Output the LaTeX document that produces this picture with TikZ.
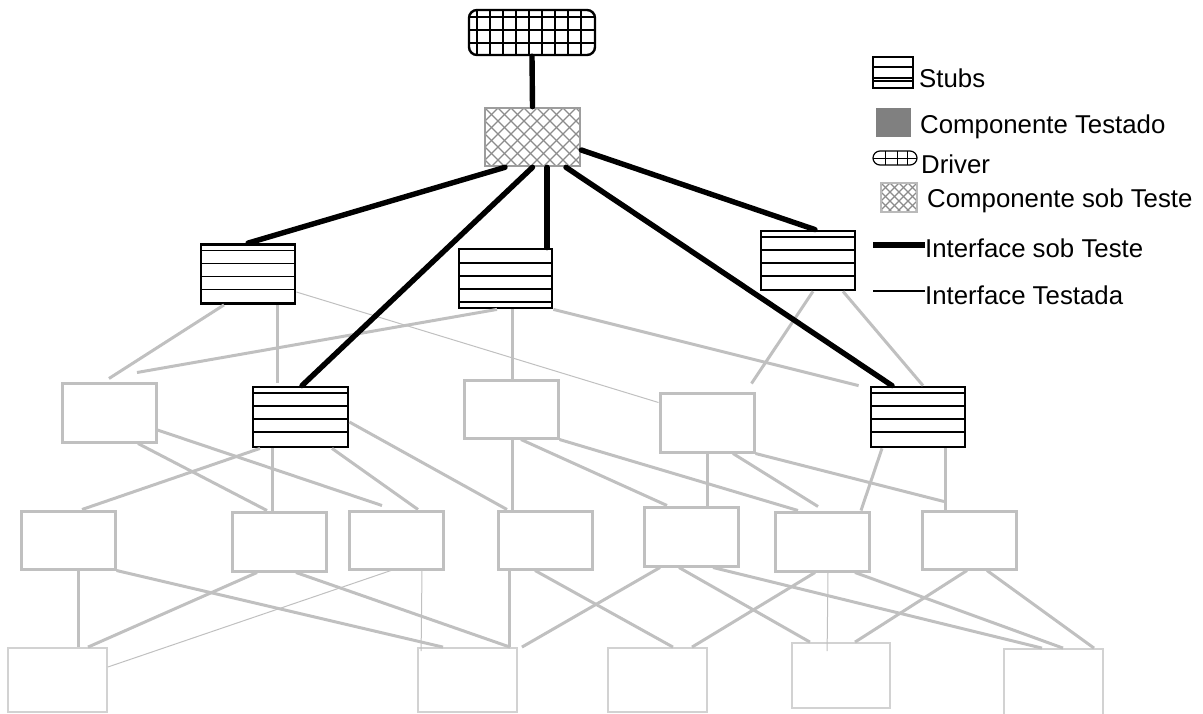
\documentclass[tikz,border=0pt]{standalone}
\usepackage{fontspec}
\setmainfont{Liberation Sans}
\usepackage{tikz}
\definecolor{linkgray}{RGB}{192,192,192}
\definecolor{leafgray}{RGB}{210,210,210}
\definecolor{cutgray}{RGB}{140,140,140}
\definecolor{donegray}{RGB}{128,128,128}

\begin{document}
\begin{tikzpicture}[x=1pt,y=-1pt,
  stub/.style={draw,line width=2.8pt,inner sep=0pt,minimum width=94,minimum height=59,
    path picture={\foreach \d in {#1}
      \draw[line width=1.8pt] ([yshift=-\d pt]path picture bounding box.north west) -- ([yshift=-\d pt]path picture bounding box.north east);}},
  stub/.default={6,19,32,45},
  comp/.style={draw=linkgray,line width=3pt,inner sep=0pt,minimum width=94,minimum height=59},
  leaf/.style={draw=leafgray,line width=1.8pt,inner sep=0pt,minimum width=99,minimum height=64},
  drv/.style={draw,line width=2.4pt,rounded corners=8pt,inner sep=0pt,minimum width=126,minimum height=45,
    path picture={
      \foreach \x in {7.7,20.7,...,112}
        \draw[line width=1.8pt] ([xshift=\x pt]path picture bounding box.north west) -- ([xshift=\x pt]path picture bounding box.south west);
      \foreach \y in {6.7,20,33.3}
        \draw[line width=1.8pt] ([yshift=-\y pt]path picture bounding box.north west) -- ([yshift=-\y pt]path picture bounding box.north east);}},
  under/.style={draw=cutgray!85,line width=2.6pt,inner sep=0pt,minimum width=95,minimum height=58,
    path picture={\foreach \i [evaluate=\i as \x using #1*\i] in {-6,...,12} {
      \draw[cutgray,line width=1.3pt] ([xshift=\x pt]path picture bounding box.north west) -- ++(70pt,-70pt);
      \draw[cutgray,line width=1.3pt] ([xshift=\x pt]path picture bounding box.north west) -- ++(-70pt,-70pt);}}},
  under/.default=13,
  link/.style={draw=linkgray,line width=3pt},
  fine/.style={draw=linkgray,line width=1pt},
  iface/.style={line width=5.4pt,line cap=round},
  lab/.style={font=\fontsize{25.8}{31}\selectfont,inner sep=0pt,anchor=base west}]
\useasboundingbox (0,0) rectangle (1203,713);

% driver and component under test
\node[drv] (drv) at (532,32.5) {};
\node[under] (cut) at (532.5,137) {};

% first level
\node[stub] (s1) at (248,274) {};
\node[stub={14,27,40,53},minimum width=93] (s2) at (505.5,278.5) {};
\node[stub] (s3) at (808,260.5) {};

% second level
\node[comp] (g1) at (109,412.5) {};
\node[stub,minimum width=95,minimum height=60] (s4) at (300.5,417) {};
\node[comp,minimum height=58] (g2) at (511,409) {};
\node[comp] (g3) at (707,422.5) {};
\node[stub,minimum height=60] (s5) at (918,417) {};

% third level
\node[comp,minimum height=58] (m1) at (68,540) {};
\node[comp] (m2) at (279,541.5) {};
\node[comp,minimum height=58] (m3) at (396,540) {};
\node[comp,minimum height=58] (m4) at (545,540) {};
\node[comp] (m5) at (691,536.5) {};
\node[comp] (m6) at (822,541.5) {};
\node[comp,minimum height=58] (m7) at (969,540) {};

% leaves
\node[leaf] (b1) at (57.5,680) {};
\node[leaf] (b2) at (467.5,680) {};
\node[leaf] (b3) at (657.5,680) {};
\node[leaf,minimum width=98,minimum height=65] (b4) at (841,675.5) {};
\node[leaf,minimum height=67] (b5) at (1053.5,682.5) {};

% tested interfaces, level 1 -> 2
\draw[link] ([xshift=-24]s1.south) -- ([yshift=3]g1.north);
\draw[link] ([xshift=29]s1.south) -- ([xshift=-23.5,yshift=3]s4.north);
\draw[fine] ([yshift=-18]s1.east) -- ([yshift=20]g3.west);
\draw[link] ([xshift=-8.5]s2.south) -- ([xshift=28,yshift=9]g1.north);
\draw[link] ([xshift=6.5]s2.south) -- ([xshift=1]g2.north);
\draw[link] (s2.south east) -- ([xshift=-11]s5.north west);
\draw[link] ([xshift=5]s3.south) -- ([xshift=-4,yshift=8]g3.north east);
\draw[link] ([xshift=35]s3.south) -- ([xshift=5]s5.north);

% level 2 -> 3
\draw[link] ([xshift=29]g1.south) -- ([xshift=-12]m2.north);
\draw[link] ([yshift=-17.5]g1.east) -- ([xshift=-14,yshift=4]m3.north);
\draw[link] ([xshift=-40.5]s4.south) -- ([xshift=14]m1.north);
\draw[link] ([xshift=-28.5]s4.south) -- ([xshift=-7]m2.north);
\draw[link] ([xshift=31.5]s4.south) -- ([xshift=22]m3.north);
\draw[link] ([yshift=-5]s4.east) -- ([xshift=-38]m4.north);
\draw[link] ([xshift=1]g2.south) -- ([xshift=-33]m4.north);
\draw[link] ([xshift=10]g2.south) -- ([xshift=-24]m5.north);
\draw[link] (g2.south east) -- ([xshift=-24]m6.north);
\draw[link] (g3.south) -- ([xshift=16]m5.north);
\draw[link] ([xshift=26]g3.south) -- ([xshift=-4,yshift=4]m6.north);
\draw[link] (g3.south east) -- ([xshift=-25,yshift=8]m7.north);
\draw[link] ([xshift=-36]s5.south) -- ([xshift=39]m6.north);
\draw[link] ([xshift=27]s5.south) -- ([xshift=-24]m7.north);

% level 3 -> leaves
\draw[link] ([xshift=10]m1.south) -- ([xshift=20.5]b1.north);
\draw[link] (m1.south east) -- ([xshift=-24.5]b2.north);
\draw[link] ([xshift=-22]m2.south) -- ([xshift=30.5]b1.north);
\draw[link] ([xshift=17]m2.south) -- ([xshift=42.5]b2.north);
\draw[fine] ([xshift=-5]m3.south) -- ([yshift=13]b1.east);
\draw[fine] ([xshift=26]m3.south) -- ([xshift=4,yshift=-4]b2.north west);
\draw[link] ([xshift=-36]m4.south) -- ([xshift=41.5]b2.north);
\draw[link] ([xshift=-10]m4.south) -- ([xshift=15.5]b3.north);
\draw[link] ([xshift=-31]m5.south) -- ([xshift=4]b2.north east);
\draw[link] ([xshift=-12]m5.south) -- ([xshift=-31]b4.north);
\draw[link] ([xshift=22]m5.south) -- ([xshift=-11.5]b5.north);
\draw[link] ([xshift=-7]m6.south) -- ([xshift=34.5]b3.north);
\draw[fine] ([xshift=6]m6.south) -- ([xshift=36,yshift=-9]b4.north west);
\draw[link] ([xshift=33]m6.south) -- ([xshift=9.5]b5.north);
\draw[link] ([xshift=-2]m7.south) -- ([xshift=14]b4.north);
\draw[link] ([xshift=18]m7.south) -- ([xshift=40.5]b5.north);

% interfaces under test
\draw[iface] (drv.south) -- (cut.north);
\draw[iface] ([xshift=-27.5]cut.south) -- (s1.north);
\draw[iface] (cut.south) -- ([xshift=1.5]s4.north);
\draw[iface] ([xshift=14.5]cut.south) -- ([xshift=41.5]s2.north);
\draw[iface] ([xshift=33.5]cut.south) -- ([xshift=-26]s5.north);
\draw[iface] ([yshift=-13]cut.east) -- ([xshift=7]s3.north);

% key
\node[stub={10,21,24},line width=1.2pt,minimum width=40,minimum height=31] (kstub) at (893,72.5) {};
\node[fill=donegray,inner sep=0pt,minimum width=35,minimum height=29] (kdone) at (893.5,122.5) {};
\node[draw,line width=1.2pt,rounded corners=7pt,inner sep=0pt,minimum width=44,minimum height=14,
  path picture={
    \foreach \x in {12,24,34}
      \draw[line width=1pt] ([xshift=\x pt]path picture bounding box.north west) -- ([xshift=\x pt]path picture bounding box.south west);
    \draw[line width=1pt] (path picture bounding box.west) -- (path picture bounding box.east);}] (kdrv) at (895,158) {};
\node[under=9,draw=cutgray!60,line width=1.5pt,minimum width=36,minimum height=29] (kcut) at (899,197.5) {};
\coordinate (kthick) at (873,245);
\coordinate (kthin) at (873,291);

\node[lab] (tstub) at (919,87) {Stubs};
\node[lab] (tdone) at (920,133) {Componente Testado};
\node[lab] (tdrv) at (921,173) {Driver};
\node[lab] (tcut) at (927,207) {Componente sob Teste};
\node[lab] (tthick) at (925,257) {Interface sob Teste};
\node[lab] (tthin) at (925,304) {Interface Testada};
\draw[iface,line cap=butt] (kthick) -- (kthick -| tthick.west);
\draw[line width=1.3pt] (kthin) -- (kthin -| tthin.west);
\end{tikzpicture}
\end{document}
